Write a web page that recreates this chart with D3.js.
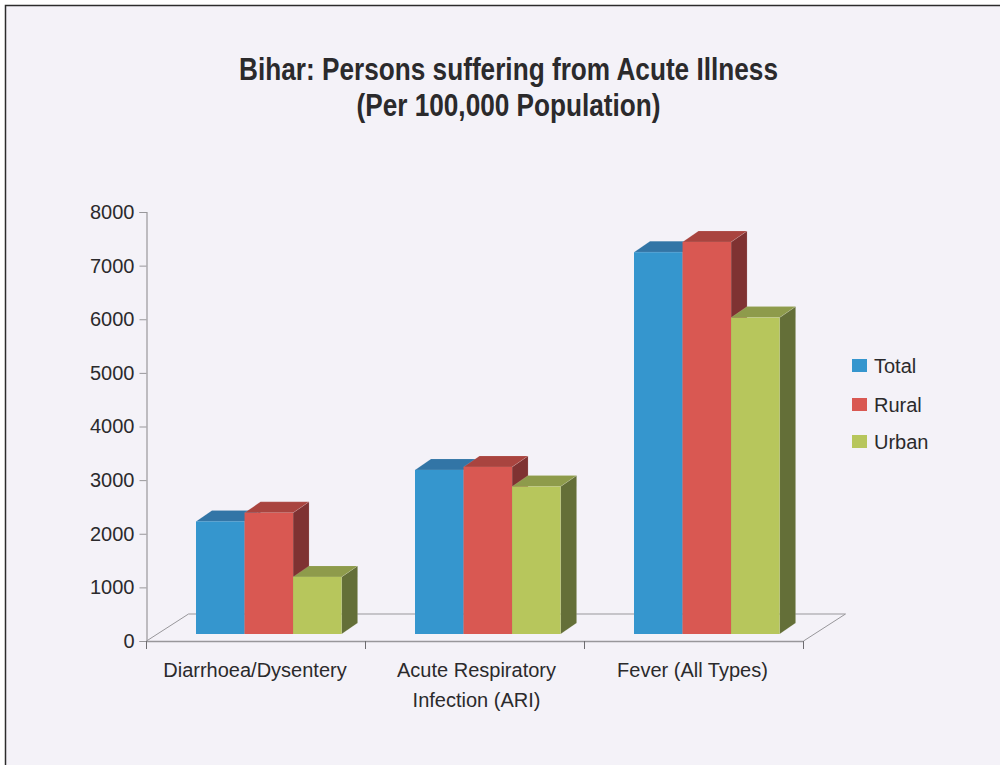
<!DOCTYPE html>
<html>
<head>
<meta charset="utf-8">
<script src="https://cdn.jsdelivr.net/npm/d3@7"></script>
<style>
  html, body { margin: 0; padding: 0; background: #fff; }
  svg { display: block; }
  text { font-family: "Liberation Sans", Arial, sans-serif; fill: #2b2a2c; }
  .title { font-weight: bold; font-size: 30.5px; text-anchor: middle; }
  .axis text { font-size: 20px; }
</style>
</head>
<body>
<div id="chart"></div>
<script>
var titleLines = ["Bihar: Persons suffering from Acute Illness", "(Per 100,000 Population)"];
var categories = [["Diarrhoea/Dysentery"], ["Acute Respiratory", "Infection (ARI)"], ["Fever (All Types)"]];
var seriesNames = ["Total", "Rural", "Urban"];
var total = [2100, 3060, 7120];
var rural = [2260, 3115, 7310];
var urban = [1065, 2750, 5900];
var yTicks = [0, 1000, 2000, 3000, 4000, 5000, 6000, 7000, 8000];

var front = ["#3596ce", "#d95852", "#b7c65c"];
var topFace = ["#3275a6", "#a9443f", "#8e9b4b"];
var side = ["#2a6186", "#7f3232", "#646f38"];

var width = 1000, height = 765;
var svg = d3.select("#chart").append("svg")
    .attr("width", width)
    .attr("height", height);

// page panel, border only on top and left
svg.append("rect").attr("x", 5).attr("y", 5).attr("width", 995).attr("height", 760).attr("fill", "#f4f2f8");
svg.append("path").attr("d", "M5.5,765V5.5H1000").attr("fill", "none").attr("stroke", "#2c2c2c").attr("stroke-width", 1.5);

// the original title is set condensed
var titleWidths = [539, 304];
svg.selectAll("text.title")
    .data(titleLines)
    .enter().append("text")
    .attr("class", "title")
    .attr("x", 508.5)
    .attr("y", function(d, i) { return 79.5 + i * 36.5; })
    .attr("textLength", function(d, i) { return titleWidths[i]; })
    .attr("lengthAdjust", "spacingAndGlyphs")
    .text(function(d) { return d; });

var x0 = 146.5, x1 = 803.5;
var y = d3.scaleLinear().domain([0, 8000]).range([641, 212]);
var xGroup = d3.scaleBand().domain(d3.range(categories.length)).range([x0, x1]);
var xBar = d3.scaleBand().domain(d3.range(seriesNames.length)).range([0, 145.6]);

// floor of the 3d box
var floorDx = 42, floorDy = -27;
svg.append("path")
    .attr("d", "M" + x0 + "," + y(0) + "L" + (x0 + floorDx) + "," + (y(0) + floorDy) + "H" + (x1 + floorDx) + "L" + x1 + "," + y(0))
    .attr("fill", "none")
    .attr("stroke", "#98979b")
    .attr("stroke-width", 1);

// y axis
var yAxis = svg.append("g")
    .attr("class", "axis")
    .attr("transform", "translate(" + x0 + ",0)")
    .call(d3.axisLeft(y).tickValues(yTicks).tickSize(7).tickPadding(5).tickFormat(d3.format("d")));
yAxis.select(".domain").attr("stroke", "#98979b").attr("stroke-width", 1.2);
yAxis.selectAll(".tick line").attr("stroke", "#98979b");

// x axis line + ticks on band edges
var edges = categories.map(function(d, i) { return xGroup(i); }).concat([x1]);
svg.append("line").attr("x1", x0).attr("x2", x1).attr("y1", y(0) + 0.5).attr("y2", y(0) + 0.5)
    .attr("stroke", "#98979b").attr("stroke-width", 1.4);
svg.selectAll("line.xtick").data(edges).enter().append("line")
    .attr("class", "xtick")
    .attr("x1", function(d) { return d; }).attr("x2", function(d) { return d; })
    .attr("y1", y(0)).attr("y2", y(0) + 8)
    .attr("stroke", "#6d6c70");

var labelNudge = [-1, 1.5, -1.5];
var labels = svg.append("g").attr("class", "axis");
categories.forEach(function(lines, i) {
  lines.forEach(function(line, j) {
    labels.append("text")
      .attr("x", xGroup(i) + xGroup.bandwidth() / 2 + labelNudge[i])
      .attr("y", 677 + j * 30)
      .attr("text-anchor", "middle")
      .text(line);
  });
});

// bars, drawn left to right so later ones cover the side face
var barsLeft = 49.5, frontLift = 7, depthX = 16, depthY = -11;
var seriesValues = [total, rural, urban];
var bars = [];
categories.forEach(function(c, i) {
  seriesNames.forEach(function(s, k) {
    bars.push({ group: i, series: k, value: seriesValues[k][i] });
  });
});

var barG = svg.selectAll("g.bar").data(bars).enter().append("g").attr("class", "bar");
function box(d) {
  return {
    l: xGroup(d.group) + barsLeft + xBar(d.series),
    r: xGroup(d.group) + barsLeft + xBar(d.series) + xBar.bandwidth(),
    t: y(d.value) - frontLift,
    b: y(0) - frontLift
  };
}
barG.append("path")
    .attr("d", function(d) { var b = box(d); return "M" + b.r + "," + b.t + "l" + depthX + "," + depthY + "V" + (b.b + depthY) + "L" + b.r + "," + b.b + "Z"; })
    .attr("fill", function(d) { return side[d.series]; })
    .attr("stroke", "#fff").attr("stroke-opacity", 0.2).attr("stroke-width", 0.6);
barG.append("path")
    .attr("d", function(d) { var b = box(d); return "M" + b.l + "," + b.t + "l" + depthX + "," + depthY + "H" + (b.r + depthX) + "L" + b.r + "," + b.t + "Z"; })
    .attr("fill", function(d) { return topFace[d.series]; })
    .attr("stroke", "#fff").attr("stroke-opacity", 0.2).attr("stroke-width", 0.6);
barG.append("rect")
    .attr("x", function(d) { return box(d).l; })
    .attr("y", function(d) { return box(d).t; })
    .attr("width", xBar.bandwidth())
    .attr("height", function(d) { var b = box(d); return b.b - b.t; })
    .attr("fill", function(d) { return front[d.series]; });

// legend
var legend = svg.selectAll("g.legend").data(seriesNames).enter().append("g")
    .attr("class", "legend axis")
    .attr("transform", function(d, i) { return "translate(852," + [359, 398, 435][i] + ")"; });
legend.append("rect").attr("width", 15).attr("height", 13).attr("fill", function(d, i) { return front[i]; });
legend.append("text").attr("x", 22).attr("y", 14).text(function(d) { return d; });
</script>
</body>
</html>
